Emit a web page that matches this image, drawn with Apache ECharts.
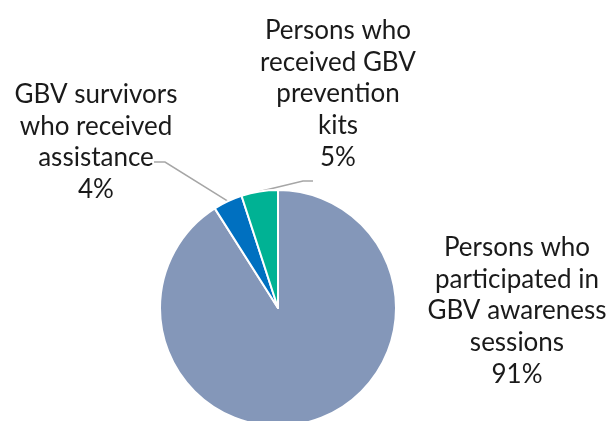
<!DOCTYPE html>
<html>
<head>
<meta charset="utf-8">
<script src="https://cdn.jsdelivr.net/npm/echarts@6/dist/echarts.min.js"></script>
<style>
  html, body { margin: 0; padding: 0; background: #ffffff; }
  #chart { width: 612px; height: 421px; }
</style>
</head>
<body>
<div id="chart"></div>
<script>
// Category labels (line-broken as displayed) and their shares in percent
const categories = [
  'Persons who\nparticipated in\nGBV awareness\nsessions',
  'GBV survivors\nwho received\nassistance',
  'Persons who\nreceived GBV\nprevention\nkits'
];
const shares = [91, 4, 5];
const sliceColors = ['#8497B9', '#0070C0', '#00B294'];

// Pie geometry
const pieCenter = [278, 308];
const pieRadius = 118;

// Label anchor centres for each slice, in pixels
const labelCentres = [
  [517, 311],
  [96, 142],
  [338, 94]
];
// Leader-line end and elbow, as offsets from each label centre (null = no line)
const leaderEnds = [
  null,
  { end: [58, 20], elbow: [69, 20] },
  { end: [-25, 87], elbow: [-35, 87] }
];

// Point on the slice's outer edge at its mid angle (clockwise from 12 o'clock)
function sliceEdgePoint(index) {
  const total = shares.reduce(function (a, b) { return a + b; }, 0);
  let before = 0;
  for (let i = 0; i < index; i++) before += shares[i];
  const mid = (before + shares[index] / 2) / total * Math.PI * 2;
  return [pieCenter[0] + pieRadius * Math.sin(mid), pieCenter[1] - pieRadius * Math.cos(mid)];
}

const chart = echarts.init(document.getElementById('chart'), null, { renderer: 'canvas' });

chart.setOption({
  backgroundColor: '#ffffff',
  animation: false,
  series: [{
    type: 'pie',
    center: pieCenter,
    radius: [0, pieRadius],
    startAngle: 90,
    clockwise: true,
    avoidLabelOverlap: false,
    itemStyle: { borderColor: '#ffffff', borderWidth: 2 },
    label: {
      show: true,
      formatter: '{b}\n{d}%',
      fontFamily: 'Lato',
      fontSize: 26,
      lineHeight: 31.7,
      color: '#1a1a1a',
      align: 'center'
    },
    labelLine: {
      show: true,
      length: 12,
      length2: 10,
      lineStyle: { color: '#a6a6a6', width: 1.5 }
    },
    labelLayout: function (params) {
      const i = params.dataIndex;
      const c = labelCentres[i];
      const out = { x: c[0], y: c[1], align: 'center', verticalAlign: 'middle' };
      const lead = leaderEnds[i];
      if (lead) {
        out.labelLinePoints = [
          sliceEdgePoint(i),
          [c[0] + lead.elbow[0], c[1] + lead.elbow[1]],
          [c[0] + lead.end[0], c[1] + lead.end[1]]
        ];
      }
      return out;
    },
    data: categories.map(function (name, i) {
      return {
        name: name,
        value: shares[i],
        itemStyle: { color: sliceColors[i] },
        labelLine: { show: i !== 0 }
      };
    })
  }]
});
</script>
</body>
</html>
